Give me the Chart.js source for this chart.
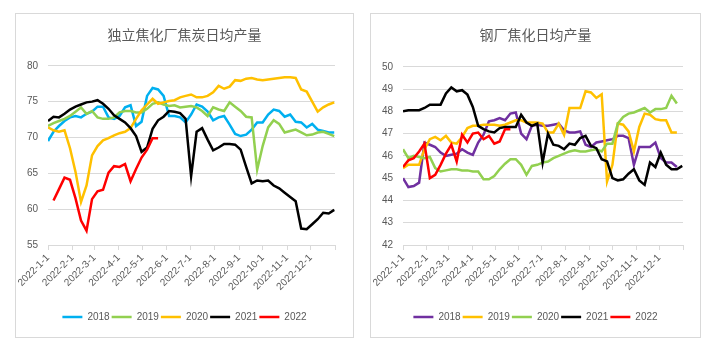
<!DOCTYPE html>
<html>
<head>
<meta charset="utf-8">
<script src="https://cdn.jsdelivr.net/npm/chart.js@4.4.0/dist/chart.umd.min.js"></script>
<style>
    body { margin: 0; background: #fff; width: 710px; height: 350px; position: relative; overflow: hidden; }
    .panel { position: absolute; top: 13px; border: 1px solid #d9d9d9; }
    #leftPanel { left: 15px; width: 337px; height: 323px; }
    #rightPanel { left: 370px; width: 329px; height: 323px; }
    canvas { display: block; }
</style>
</head>
<body>
<div class="panel" id="leftPanel"><canvas id="cokeChart" width="337" height="323"></canvas></div>
<div class="panel" id="rightPanel"><canvas id="steelChart" width="329" height="323"></canvas></div>
<script>
// eixo x: dia do ano de cada rótulo mensal
const monthTicks = [0, 31, 59, 90, 120, 151, 181, 212, 243, 273, 304, 334, 365];
const monthLabels = ['2022-1-1', '2022-2-1', '2022-3-1', '2022-4-1', '2022-5-1', '2022-6-1',
    '2022-7-1', '2022-8-1', '2022-9-1', '2022-10-1', '2022-11-1', '2022-12-1', ''];
const years = ['2018', '2019', '2020', '2021', '2022'];

// 独立焦化厂 (valores semanais)
const coke2018 = [69.5, 70.8, 71.6, 72.3, 72.8, 73.0, 72.8, 73.3, 73.6, 74.3, 74.3, 72.8, 72.6, 73.0, 74.2, 74.5, 71.6, 72.2, 75.8, 76.9,
    76.7, 75.8, 73.0, 73.0, 72.8, 72.1, 73.2, 74.6, 74.3, 73.6, 72.4, 72.8, 73.0, 71.8, 70.5, 70.2, 70.4, 71.1, 72.1, 72.1,
    73.2, 73.9, 73.7, 72.9, 73.2, 72.2, 72.1, 71.4, 71.9, 71.1, 70.9, 70.7, 70.7];
const coke2019 = [71.6, 72.0, 72.3, 72.6, 73.0, 73.6, 74.2, 73.3, 73.7, 72.8, 72.6, 72.6, 72.8, 73.5, 73.7, 73.7, 73.5, 73.5, 74.0, 74.7,
    74.9, 74.6, 74.4, 74.5, 74.2, 74.3, 74.4, 74.2, 73.7, 73.0, 74.2, 73.9, 73.7, 74.9, 74.3, 73.7, 72.9, 72.8, 65.5, 68.8,
    71.4, 72.4, 71.9, 70.7, 70.9, 71.1, 70.7, 70.3, 70.4, 70.7, 70.8, 70.5, 70.2];
const coke2020 = [71.4, 71.0, 70.8, 71.0, 68.5, 65.2, 61.0, 63.3, 67.5, 68.8, 69.6, 69.9, 70.3, 70.6, 70.8, 71.3, 72.6, 73.8, 74.6, 75.4,
    74.7, 74.9, 75.1, 75.2, 75.6, 75.8, 76.0, 75.6, 75.6, 75.8, 76.3, 77.2, 76.8, 77.1, 78.0, 77.9, 78.2, 78.3, 78.1, 78.0,
    78.1, 78.2, 78.3, 78.4, 78.4, 78.3, 76.7, 76.4, 75.0, 73.6, 74.2, 74.6, 74.9];
const coke2021 = [72.3, 72.9, 72.8, 73.3, 73.9, 74.3, 74.6, 74.9, 75.0, 75.2, 74.7, 74.0, 73.1, 72.6, 72.1, 71.3, 70.2, 68.0, 68.6, 71.2,
    72.4, 72.9, 73.7, 73.6, 73.4, 72.6, 64.6, 70.8, 71.3, 69.7, 68.2, 68.6, 69.1, 69.1, 69.0, 68.3, 65.9, 63.6, 64.0, 63.9,
    64.0, 63.3, 62.9, 62.3, 61.7, 61.1, 57.3, 57.2, 57.9, 58.6, 59.5, 59.4, 59.9];
const coke2022 = [null, 61.2, 62.8, 64.4, 64.1, 61.5, 58.4, 57.0, 61.4, 62.5, 62.7, 65.1, 66.0, 65.9, 66.3, 63.9, 65.6, 67.2, 68.3, 69.9,
    69.9];

// 钢厂焦化 (valores semanais)
const steel2018 = [45.0, 44.6, 44.65, 44.8, 46.6, 46.5, 46.4, 46.15, 46.0, 46.05, 46.1, 46.3, 46.15, 46.05, 46.6, 46.95, 47.55, 47.6, 47.7, 47.6,
    47.9, 47.95, 47.0, 46.75, 47.35, 47.4, 47.35, 47.35, 47.4, 47.45, 47.15, 47.05, 47.05, 47.1, 46.5, 46.4, 46.6, 46.65, 46.7, 46.75,
    46.9, 46.9, 46.8, 45.6, 46.4, 46.4, 46.4, 46.6, 45.9, 45.7, 45.7, 45.5];
const steel2019 = [45.45, 45.6, 45.6, 45.6, 46.3, 46.75, 46.85, 46.7, 46.9, 46.6, 46.55, 46.85, 47.25, 47.35, 47.35, 47.4, 47.4, 47.4, 47.35, 47.4,
    47.5, 47.6, 47.6, 47.5, 47.5, 47.5, 47.45, 47.05, 47.05, 47.45, 46.95, 48.15, 48.15, 48.15, 48.9, 48.85, 48.6, 48.77, 44.85, 45.6,
    47.45, 47.4, 47.1, 46.2, 47.3, 47.9, 47.85, 47.65, 47.6, 47.6, 47.05, 47.05];
const steel2020 = [46.3, 45.9, 46.0, 45.95, 45.9, 45.95, 45.45, 45.3, 45.35, 45.4, 45.4, 45.35, 45.35, 45.3, 45.3, 44.95, 44.95, 45.1, 45.4, 45.65,
    45.85, 45.85, 45.6, 45.15, 45.55, 45.6, 45.7, 45.75, 45.9, 46.0, 46.1, 46.2, 46.25, 46.2, 46.2, 46.25, 46.3, 46.2, 46.55, 46.55,
    47.45, 47.75, 47.9, 47.95, 48.05, 48.15, 47.95, 48.1, 48.1, 48.15, 48.7, 48.35];
const steel2021 = [48.0, 48.05, 48.05, 48.05, 48.15, 48.3, 48.3, 48.3, 48.8, 49.07, 48.9, 48.95, 48.75, 48.2, 47.35, 47.2, 47.1, 47.05, 47.25, 47.3,
    47.3, 47.3, 47.85, 47.5, 47.35, 47.45, 45.7, 47.0, 46.5, 46.45, 46.3, 46.55, 46.5, 46.8, 46.9, 46.45, 46.35, 45.85, 45.75, 45.0,
    44.9, 44.95, 45.2, 45.4, 44.9, 44.7, 45.7, 45.5, 46.15, 45.6, 45.4, 45.4, 45.55];
const steel2022 = [45.5, 45.8, 45.9, 46.2, 46.55, 45.0, 45.15, 45.6, 46.1, 46.5, 45.75, 46.95, 46.6, 47.0, 47.05, 46.75, 46.9, 46.55, 46.65, 47.2,
    47.2];

const cokeColors = ['#00B0F0', '#92D050', '#FFC000', '#000000', '#FF0000'];
const steelColors = ['#7030A0', '#FFC000', '#92D050', '#000000', '#FF0000'];

const textColor = '#595959';
const baseFont = 'Liberation Sans';

function toPoints(values) {
    // uma observação por semana
    return values.map((v, i) => ({ x: i * 7, y: v }));
}

function renderYearChart(canvasId, titleText, seriesList, colors, yMin, yMax, yStep, rightGap, titleBottom) {
    const ctx = document.getElementById(canvasId).getContext('2d');
    return new Chart(ctx, {
        type: 'line',
        data: {
            datasets: years.map((year, k) => ({
                label: year,
                data: toPoints(seriesList[k]),
                borderColor: colors[k],
                backgroundColor: colors[k],
                borderWidth: 2.5,
                pointRadius: 0,
                tension: 0,
                fill: false,
                order: years.length - k
            }))
        },
        options: {
            responsive: false,
            animation: false,
            layout: { padding: { left: 0, right: 0, top: 0, bottom: 5 } },
            plugins: {
                title: {
                    display: true,
                    text: titleText,
                    color: textColor,
                    font: { size: 14, family: 'Noto Sans CJK SC', weight: 'normal' },
                    padding: { top: 12, bottom: titleBottom }
                },
                legend: {
                    position: 'bottom',
                    labels: {
                        usePointStyle: true,
                        pointStyle: 'line',
                        pointStyleWidth: 20,
                        padding: 2,
                        color: textColor,
                        font: { size: 10, family: baseFont },
                        sort: (a, b) => a.datasetIndex - b.datasetIndex
                    }
                },
                tooltip: { enabled: false }
            },
            scales: {
                x: {
                    type: 'linear',
                    min: 0,
                    max: 365,
                    afterBuildTicks: (scale) => { scale.ticks = monthTicks.map(v => ({ value: v })); },
                    afterFit: (scale) => { scale.height = 65; },
                    ticks: {
                        autoSkip: false,
                        minRotation: 45,
                        maxRotation: 45,
                        padding: 2,
                        color: textColor,
                        font: { size: 10, family: baseFont },
                        callback: (value, index) => monthLabels[index]
                    },
                    grid: { drawOnChartArea: false, drawTicks: true, tickLength: 5, color: '#d9d9d9' },
                    border: { display: true, color: '#d9d9d9' }
                },
                y: {
                    min: yMin,
                    max: yMax,
                    afterFit: (scale) => { scale.width = 32; },
                    ticks: {
                        stepSize: yStep,
                        padding: 10,
                        color: textColor,
                        font: { size: 10, family: baseFont }
                    },
                    grid: { color: '#d9d9d9', drawTicks: false },
                    border: { display: false }
                },
                // eixo vazio à direita, só para reservar a margem
                gap: {
                    position: 'right',
                    min: 0,
                    max: 1,
                    afterFit: (scale) => { scale.width = rightGap; },
                    ticks: { display: false },
                    grid: { display: false },
                    border: { display: false }
                }
            }
        }
    });
}

if (typeof Chart === 'undefined') {
    console.error('Chart.js não disponível.');
} else {
    renderYearChart('cokeChart', '独立焦化厂焦炭日均产量',
        [coke2018, coke2019, coke2020, coke2021, coke2022], cokeColors, 55, 80, 5, 18, 23);
    renderYearChart('steelChart', '钢厂焦化日均产量',
        [steel2018, steel2019, steel2020, steel2021, steel2022], steelColors, 42, 50, 1, 17, 24);
}
</script>
</body>
</html>
